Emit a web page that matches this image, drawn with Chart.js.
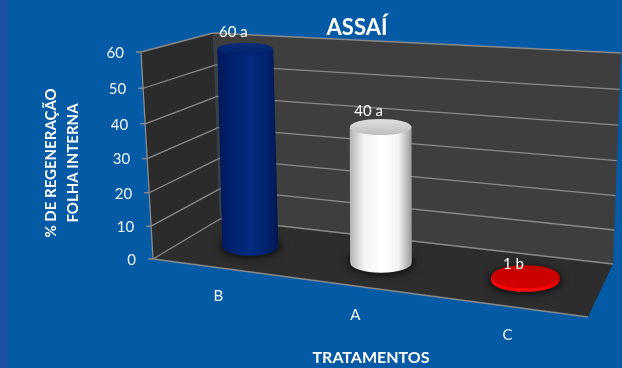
<!DOCTYPE html>
<html>
<head>
<meta charset="utf-8">
<title>ASSAÍ</title>
<script src="https://cdn.jsdelivr.net/npm/chart.js@4"></script>
<style>
    html, body { margin: 0; padding: 0; background: #055aa5; }
    #wrap { position: relative; width: 622px; height: 368px; overflow: hidden; }
    #strip { position: absolute; left: 0; top: 0; width: 7px; height: 368px; background: #1e4ea5; }
    canvas { position: absolute; left: 0; top: 0; }
</style>
</head>
<body>
<div id="wrap">
    <div id="strip"></div>
    <canvas id="myChart" width="622" height="368"></canvas>
</div>
<script>
// Dados do gráfico
const categories = ['B', 'A', 'C'];
const values = [60, 40, 1];
const valueLabels = ['60 a', '40 a', '1 b'];
const yTicks = [0, 10, 20, 30, 40, 50, 60];
const chartTitle = 'ASSAÍ';
const yTitle = ['% DE REGENERAÇÃO', 'FOLHA INTERNA'];
const xTitle = 'TRATAMENTOS';

// Cores de cada cilindro: corpo (esquerda para direita) e tampa
const barStyles = [
    { body: ['#001a5e', '#01246f', '#022a80', '#01246e', '#001750'], top: ['#0a2c78', '#01226a'] },
    { body: ['#b4b4b4', '#f2f2f2', '#ffffff', '#f4f4f4', '#9a9a9a'], top: ['#e0e0e0', '#bdbdbd'] },
    { body: ['#ff0a0a', '#ff0000', '#ff1010', '#ff0000', '#ee0000'], top: ['#c80000', '#d00000'] }
];

// Homografia do quadrado unitário para um quadrilátero na tela
function quad(p00, p10, p11, p01) {
    const dx1 = p10[0] - p11[0], dx2 = p01[0] - p11[0], sx = p00[0] - p10[0] + p11[0] - p01[0];
    const dy1 = p10[1] - p11[1], dy2 = p01[1] - p11[1], sy = p00[1] - p10[1] + p11[1] - p01[1];
    const den = dx1 * dy2 - dx2 * dy1;
    const g = (sx * dy2 - dx2 * sy) / den;
    const h = (dx1 * sy - sx * dy1) / den;
    const a = p10[0] - p00[0] + g * p10[0], b = p01[0] - p00[0] + h * p01[0];
    const d = p10[1] - p00[1] + g * p10[1], e = p01[1] - p00[1] + h * p01[1];
    return (u, v) => {
        const w = g * u + h * v + 1;
        return [(a * u + b * v + p00[0]) / w, (d * u + e * v + p00[1]) / w];
    };
}

// Caixa 3D: chão, parede do fundo e parede lateral
const floor = quad([153, 259], [588, 317], [613, 264], [220, 219]);
const back = quad([220, 219], [613, 264], [621, 53], [213, 33]);
const side = quad([153, 259], [220, 219], [213, 33], [141, 52]);

function fillQuad(ctx, fn, fill) {
    ctx.beginPath();
    [[0, 0], [1, 0], [1, 1], [0, 1]].forEach(c => ctx.lineTo(...fn(c[0], c[1])));
    ctx.closePath();
    ctx.fillStyle = fill;
    ctx.fill();
}

function line(ctx, a, b, color, width) {
    ctx.beginPath();
    ctx.moveTo(a[0], a[1]);
    ctx.lineTo(b[0], b[1]);
    ctx.strokeStyle = color;
    ctx.lineWidth = width;
    ctx.stroke();
}

const tOf = (y, value) => (y.bottom - y.getPixelForValue(value)) / y.height;
const uOf = (x, px) => (px - x.left) / x.width;

// Paredes, grade e rótulos dos eixos
const boxPlugin = {
    id: 'box',
    beforeDatasetsDraw(chart) {
        const { ctx, scales: { x, y } } = chart;
        ctx.save();
        fillQuad(ctx, side, '#2b2b2b');
        fillQuad(ctx, back, '#3e3e3e');
        fillQuad(ctx, floor, '#2d2d2d');

        ctx.lineCap = 'butt';
        y.ticks.forEach(tick => {
            const t = tOf(y, tick.value);
            const front = side(0, t);
            line(ctx, side(0, t), side(1, t), '#8a8a8a', 1.3);
            line(ctx, back(0, t), back(1, t), '#8a8a8a', 1.3);
            line(ctx, [front[0] - 5, front[1]], front, '#8a8a8a', 1.5);
            ctx.fillStyle = '#eef3f8';
            ctx.font = '15px Lato';
            ctx.textAlign = 'right';
            ctx.textBaseline = 'middle';
            ctx.fillText(tick.label, front[0] - 17, front[1] + 1);
        });
        line(ctx, side(0, 0), side(0, 1), '#8a8a8a', 1.3);
        line(ctx, floor(0, 0), floor(1, 0), '#8a8a8a', 1.5);

        // Categorias seguem a borda frontal do chão
        categories.forEach((cat, i) => {
            const p = floor(uOf(x, x.getPixelForValue(i)), 0);
            ctx.fillStyle = '#eef3f8';
            ctx.font = '15px Lato';
            ctx.textAlign = 'center';
            ctx.textBaseline = 'middle';
            ctx.fillText(cat, p[0] + 2, p[1] + 29);
        });

        ctx.fillStyle = '#ffffff';
        ctx.font = 'bold 22px Lato';
        ctx.textAlign = 'center';
        ctx.textBaseline = 'middle';
        ctx.fillText(chartTitle, 357, 28);
        ctx.restore();
    },
    afterDatasetsDraw(chart) {
        const { ctx, scales: { x, y } } = chart;
        const bars = chart.getDatasetMeta(0).data;
        bars.forEach((bar, i) => drawCylinder(ctx, uOf(x, bar.x), (y.bottom - bar.y) / y.height, barStyles[i], valueLabels[i]));
    }
};

function drawCylinder(ctx, u, t, style, label) {
    const depth = 0.48;
    const p = floor(u, depth);
    const base = [p[0] + 2.5, p[1]];
    const w0 = back(u, 0), wt = back(u, t);
    // o cilindro fica mais perto do observador que a parede, logo um pouco mais alto
    const top = [base[0] + wt[0] - w0[0], base[1] + (wt[1] - w0[1]) * 1.04];
    const r = (floor(u + 0.075, depth)[0] - floor(u - 0.075, depth)[0]) / 2;
    const ryBase = r * 0.34;
    const ryTop = r * (0.34 - 0.12 * t);

    ctx.save();
    // sombra no chão
    ctx.save();
    ctx.shadowColor = 'rgba(0,0,0,0.9)';
    ctx.shadowBlur = 9;
    ctx.fillStyle = '#1c1c1c';
    ctx.beginPath();
    ctx.ellipse(base[0], base[1], r + 2, ryBase + 1, 0, 0, Math.PI * 2);
    ctx.fill();
    ctx.restore();

    // corpo
    const grad = ctx.createLinearGradient(base[0] - r, 0, base[0] + r, 0);
    style.body.forEach((c, k) => grad.addColorStop([0, 0.22, 0.5, 0.78, 1][k], c));
    ctx.fillStyle = grad;
    ctx.beginPath();
    ctx.moveTo(top[0] - r, top[1]);
    ctx.lineTo(base[0] - r, base[1]);
    ctx.ellipse(base[0], base[1], r, ryBase, 0, Math.PI, 0, true);
    ctx.lineTo(top[0] + r, top[1]);
    ctx.closePath();
    ctx.fill();

    // tampa
    const cap = ctx.createLinearGradient(0, top[1] - ryTop, 0, top[1] + ryTop);
    cap.addColorStop(0, style.top[0]);
    cap.addColorStop(1, style.top[1]);
    ctx.fillStyle = cap;
    ctx.beginPath();
    ctx.ellipse(top[0], top[1], r, ryTop, 0, 0, Math.PI * 2);
    ctx.fill();

    ctx.fillStyle = '#ffffff';
    ctx.font = '15px Lato';
    ctx.textAlign = 'center';
    ctx.textBaseline = 'middle';
    ctx.fillText(label, top[0] - 12, top[1] - 13 - 4 * t);
    ctx.restore();
}

new Chart(document.getElementById('myChart').getContext('2d'), {
    type: 'bar',
    data: {
        labels: categories,
        datasets: [{ data: values, backgroundColor: 'transparent', borderWidth: 0 }]
    },
    options: {
        responsive: false,
        animation: false,
        layout: { padding: { top: 52, right: 30 } },
        plugins: { legend: { display: false }, tooltip: { enabled: false } },
        scales: {
            x: {
                afterFit: s => { s.height = 94; },
                grid: { display: false },
                border: { display: false },
                ticks: { display: false },
                title: {
                    display: true,
                    text: xTitle,
                    color: '#ffffff',
                    font: { family: 'Lato', size: 16, weight: 'bold' },
                    padding: { top: 0, bottom: 1 }
                }
            },
            y: {
                min: 0,
                max: 60,
                afterFit: s => { s.width = 150; },
                afterBuildTicks: s => { s.ticks = yTicks.map(v => ({ value: v, label: String(v) })); },
                grid: { display: false },
                border: { display: false },
                ticks: { display: false },
                title: {
                    display: true,
                    text: yTitle,
                    color: '#ffffff',
                    font: { family: 'Lato', size: 15, weight: 'bold', lineHeight: 1.47 },
                    padding: { top: 40, bottom: 0 }
                }
            }
        }
    },
    plugins: [boxPlugin]
});
</script>
</body>
</html>
